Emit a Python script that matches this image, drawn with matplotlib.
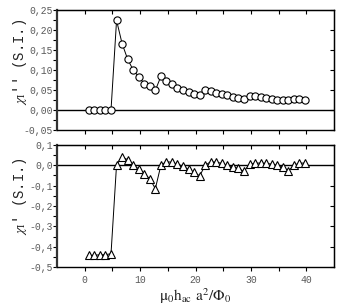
import numpy as np
import matplotlib
matplotlib.use("Agg")
import matplotlib.pyplot as plt

plt.rcParams["mathtext.fontset"] = "stix"

# field values (same for both panels)
field = [0.75 + k for k in range(40)]

# chi'' (top panel, circles)
chi_im = [0.0, 0.0, 0.0, 0.0, 0.0,
          0.224, 0.166, 0.127, 0.100, 0.083, 0.066, 0.059, 0.049,
          0.084, 0.073, 0.064, 0.056, 0.049, 0.044, 0.039, 0.037,
          0.049, 0.047, 0.043, 0.040, 0.037, 0.032, 0.029, 0.028,
          0.035, 0.034, 0.033, 0.030, 0.028, 0.025, 0.025, 0.025,
          0.028, 0.028, 0.026]

# chi' (bottom panel, triangles)
chi_re = [-0.443, -0.442, -0.440, -0.439, -0.435,
          0.003, 0.041, 0.028, 0.003, -0.018, -0.042, -0.066, -0.115,
          0.000, 0.018, 0.015, 0.006, -0.005, -0.020, -0.034, -0.052,
          0.000, 0.018, 0.015, 0.010, 0.000, -0.008, -0.015, -0.030,
          0.005, 0.011, 0.011, 0.010, 0.006, 0.000, -0.008, -0.028,
          0.000, 0.011, 0.011]

top_ticks = [0.25, 0.20, 0.15, 0.10, 0.05, 0.00, -0.05]
top_labels = ["0,25", "0,20", "0,15", "0,10", "0,05", "0,00", "-0,05"]
bot_ticks = [0.1, 0.0, -0.1, -0.2, -0.3, -0.4, -0.5]
bot_labels = ["0,1", "0,0", "-0,1", "-0,2", "-0,3", "-0,4", "-0,5"]
x_ticks = [0, 10, 20, 30, 40]

mono = "Liberation Mono"
grey = "#5a5a5a"

fig = plt.figure(figsize=(3.38, 3.07), dpi=100)
W, H = 338.0, 307.0
ax1 = fig.add_axes([57 / W, 1 - 130 / H, 277 / W, 120 / H])
ax2 = fig.add_axes([57 / W, 1 - 267 / H, 277 / W, 122 / H])


def style_axes(ax, yticks, ylabels, ylim, yminor, show_x):
    ax.set_xlim(-5, 45)
    ax.set_ylim(*ylim)
    ax.axhline(0, color="black", lw=1.0, zorder=1)
    for sp in ax.spines.values():
        sp.set_linewidth(1.0)
    ax.spines["left"].set_linewidth(1.6)
    ax.spines["left"].set_color("#333333")

    ax.set_yticks(yticks)
    ax.set_yticklabels(ylabels, fontfamily=mono, fontsize=7, color=grey)
    ax.set_yticks(yminor, minor=True)
    ax.set_xticks(x_ticks)
    ax.set_xticks([5, 15, 25, 35], minor=True)
    if show_x:
        ax.set_xticklabels([str(t) for t in x_ticks], fontfamily=mono,
                           fontsize=7, color=grey)
    else:
        ax.set_xticklabels([])
    ax.tick_params(axis="both", which="both", direction="out", length=3,
                   width=0.8, pad=0)
    ax.tick_params(axis="x", which="both", pad=3)

    # inward ticks on top and right
    top = ax.secondary_xaxis("top")
    top.set_xticks(x_ticks + [5, 15, 25, 35])
    top.set_xticklabels([])
    top.tick_params(direction="in", length=3, width=0.8)
    right = ax.secondary_yaxis("right")
    right.set_yticks(yticks)
    right.set_yticklabels([])
    right.tick_params(direction="in", length=3, width=0.8)


style_axes(ax1, top_ticks, top_labels, (-0.05, 0.25),
           [0.225, 0.175, 0.125, 0.075, 0.025, -0.025], False)
style_axes(ax2, bot_ticks, bot_labels, (-0.5, 0.1),
           [0.05, -0.05, -0.15, -0.25, -0.35, -0.45], True)

ax1.plot(field, chi_im, color="black", lw=0.7, marker="o", ms=5.2,
         mfc="white", mec="black", mew=0.8, zorder=3)
ax2.plot(field, chi_re, color="black", lw=0.7, marker="^", ms=6,
         mfc="white", mec="black", mew=0.8, zorder=3)

fig.text(20 / W, 1 - 62 / H, r"$\chi_{\rm I}$'' (S.I.)", rotation=90,
         ha="center", va="center", fontfamily=mono, fontsize=10,
         color="#222222")
fig.text(20 / W, 1 - 196 / H, r"$\chi_{\rm I}$' (S.I.)", rotation=90,
         ha="center", va="center", fontfamily=mono, fontsize=10,
         color="#222222")

fig.text(195 / W, 1 - 301 / H, r"$\mathrm{\mu_0 h_{ac}\ a^2/\Phi_0}$",
         ha="center", va="baseline", fontsize=11, color="#222222")

fig.savefig("out.png", dpi=100)
